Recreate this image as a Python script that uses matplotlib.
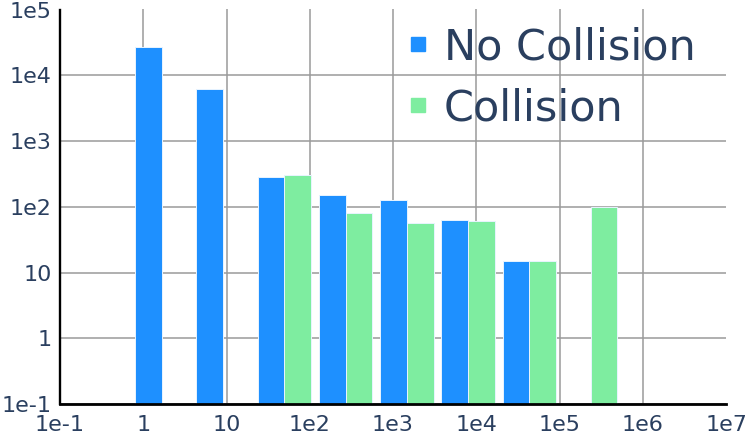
import numpy as np
import matplotlib
matplotlib.use("Agg")
import matplotlib.pyplot as plt
from matplotlib.lines import Line2D

# ---- data ----
bin_centers = [1.67, 9.1, 49.6, 270, 1470, 8000, 43600, 237000]
no_collision = [26600, 6100, 286, 149, 125, 63.5, 15.1, np.nan]
collision = [np.nan, np.nan, 307, 79, 57, 60, 15, 99]
series_names = ["No Collision", "Collision"]
series_colors = ["#1e90ff", "#7eeda0"]
xtick_vals = [1e-1, 1, 10, 1e2, 1e3, 1e4, 1e5, 1e6, 1e7]
xtick_labels = ["1e-1", "1", "10", "1e2", "1e3", "1e4", "1e5", "1e6", "1e7"]
ytick_vals = [1e-1, 1, 10, 1e2, 1e3, 1e4, 1e5]
ytick_labels = ["1e-1", "1", "10", "1e2", "1e3", "1e4", "1e5"]

text_color = "#2a3f5f"
plt.rcParams['font.family'] = ['DejaVu Sans']

fig = plt.figure(figsize=(7.48, 4.36), dpi=100)
ax = fig.add_axes([60/748, 32/436, 666/748, 394.5/436])
ax.set_xscale('log')
ax.set_yscale('log')
ax.set_xlim(1e-1, 1e7)
ax.set_ylim(1e-1, 1e5)

bar_dec = 0.321  # bar width in decades
centers = np.array(bin_centers)
factor = 10 ** bar_dec
base = 1e-1
for vals, col, side in [(no_collision, series_colors[0], -1), (collision, series_colors[1], 1)]:
    v = np.array(vals, dtype=float)
    mask = ~np.isnan(v)
    if side < 0:
        left = centers / factor
        width = centers - left
    else:
        left = centers
        width = centers * factor - centers
    ax.bar(left[mask], v[mask] - base, width=width[mask], bottom=base, align='edge',
           color=col, edgecolor='#e8f4ff', linewidth=0.7, zorder=3)

ax.set_xticks(xtick_vals)
ax.set_xticklabels(xtick_labels)
ax.set_yticks(ytick_vals)
ax.set_yticklabels(ytick_labels)
ax.xaxis.set_minor_locator(matplotlib.ticker.NullLocator())
ax.yaxis.set_minor_locator(matplotlib.ticker.NullLocator())
ax.tick_params(axis='x', length=0, pad=8, labelsize=16, labelcolor=text_color)
ax.tick_params(axis='y', length=0, pad=6, labelsize=16, labelcolor=text_color)

ax.grid(True, color='#9a9a9a', linewidth=1.1, zorder=0)
ax.set_axisbelow(True)
# no gridline at the top and right limits
ax.get_xgridlines()[-1].set_visible(False)
ax.get_ygridlines()[-1].set_visible(False)
for s in ['top', 'right']:
    ax.spines[s].set_visible(False)
ax.spines['left'].set_linewidth(1.7)
ax.spines['bottom'].set_linewidth(2.0)
ax.spines['left'].set_zorder(5)
ax.spines['bottom'].set_zorder(5)

handles = [Line2D([], [], linestyle='none', marker='s', markersize=10.5,
                  markerfacecolor=c, markeredgecolor=c) for c in series_colors]
leg = ax.legend(handles, series_names, loc='upper left', bbox_to_anchor=(405/748, 1 - 26/436),
                bbox_transform=fig.transFigure, frameon=False, fontsize=31,
                handlelength=0.6, handletextpad=0.3, labelspacing=0.45, borderaxespad=0,
                borderpad=0)
for t in leg.get_texts():
    t.set_color(text_color)

fig.savefig("out.png", dpi=100)
